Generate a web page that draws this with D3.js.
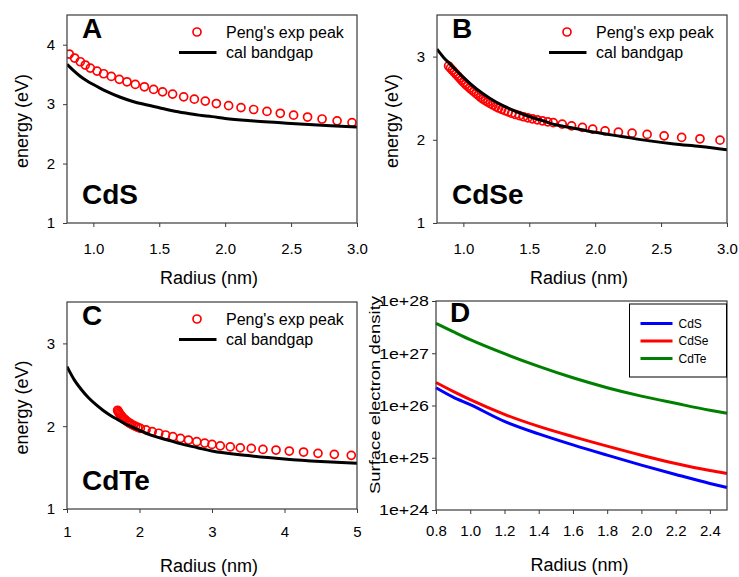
<!DOCTYPE html>
<html>
<head>
<meta charset="utf-8">
<script src="https://cdn.jsdelivr.net/npm/d3@7"></script>
<style>
  html, body { margin: 0; background: #fff; }
  svg { display: block; }
</style>
</head>
<body>
<svg id="fig" width="739" height="577"></svg>
<script>
// ---- Data: radius (nm) vs energy (eV) ----
const cdsExp = [
  [0.817,3.843],[0.858,3.776],[0.901,3.713],[0.939,3.658],[0.977,3.607],[1.028,3.556],
  [1.078,3.511],[1.136,3.467],[1.197,3.417],[1.255,3.376],[1.318,3.332],[1.387,3.292],
  [1.457,3.248],[1.525,3.207],[1.601,3.169],[1.685,3.123],[1.766,3.084],[1.849,3.051],
  [1.933,3.010],[2.026,2.975],[2.120,2.942],[2.216,2.910],[2.317,2.878],[2.418,2.846],
  [2.519,2.815],[2.625,2.783],[2.735,2.750],[2.849,2.719],[2.962,2.690]
];
const cdsCal = [
  [0.80,3.67],[0.85,3.565],[0.90,3.47],[0.95,3.395],[1.00,3.33],[1.05,3.27],[1.10,3.215],
  [1.20,3.12],[1.30,3.045],[1.40,2.99],[1.50,2.94],[1.60,2.89],[1.70,2.85],[1.80,2.815],
  [1.90,2.79],[2.00,2.76],[2.20,2.72],[2.40,2.69],[2.60,2.66],[2.80,2.635],[3.00,2.615]
];
const cdseExp = [
  [0.888,2.887],[0.902,2.862],[0.916,2.838],[0.930,2.814],[0.944,2.790],[0.958,2.766],
  [0.972,2.742],[0.987,2.716],[1.002,2.690],[1.017,2.667],[1.032,2.645],[1.048,2.622],
  [1.064,2.600],[1.080,2.579],[1.097,2.556],[1.114,2.534],[1.131,2.510],[1.149,2.489],
  [1.167,2.471],[1.186,2.453],[1.205,2.436],[1.225,2.418],[1.246,2.399],[1.268,2.382],
  [1.291,2.366],[1.315,2.350],[1.340,2.335],[1.367,2.319],[1.395,2.304],[1.425,2.290],
  [1.456,2.277],[1.489,2.264],[1.524,2.252],[1.561,2.240],[1.600,2.228],[1.640,2.216],
  [1.682,2.206],[1.750,2.188],[1.821,2.168],[1.903,2.149],[1.981,2.128],[2.075,2.108],
  [2.176,2.092],[2.280,2.080],[2.394,2.065],[2.523,2.048],[2.656,2.029],[2.795,2.012],
  [2.947,1.996]
];
const cdseCal = [
  [0.80,3.09],[0.85,2.99],[0.90,2.91],[0.95,2.83],[1.00,2.75],[1.10,2.61],[1.20,2.50],
  [1.30,2.41],[1.40,2.34],[1.50,2.28],[1.60,2.23],[1.70,2.18],[1.80,2.15],[1.90,2.12],
  [2.00,2.09],[2.20,2.04],[2.40,1.99],[2.60,1.95],[2.80,1.92],[3.00,1.88]
];
const cdteExp = [
  [1.698,2.192],[1.708,2.176],[1.719,2.160],[1.731,2.145],[1.744,2.130],[1.758,2.115],
  [1.773,2.101],[1.789,2.087],[1.806,2.074],[1.824,2.061],[1.844,2.048],[1.866,2.035],
  [1.890,2.022],[1.916,2.010],[1.945,1.998],[1.977,1.986],[2.012,1.974],[2.090,1.955],
  [2.175,1.935],[2.265,1.915],[2.360,1.894],[2.460,1.873],[2.565,1.853],[2.675,1.833],
  [2.790,1.813],[2.900,1.796],[3.000,1.780],[3.114,1.763],[3.252,1.751],[3.390,1.739],
  [3.542,1.732],[3.703,1.720],[3.883,1.712],[4.066,1.700],[4.263,1.688],[4.462,1.672],
  [4.687,1.660],[4.921,1.648]
];
const cdteCal = [
  [1.0,2.72],[1.1,2.56],[1.2,2.44],[1.3,2.34],[1.4,2.26],[1.5,2.19],[1.6,2.13],[1.7,2.08],
  [1.8,2.03],[1.9,1.99],[2.0,1.95],[2.2,1.88],[2.4,1.83],[2.6,1.78],[2.8,1.74],[3.0,1.70],
  [3.5,1.645],[4.0,1.605],[4.5,1.575],[5.0,1.553]
];

// ---- Data: radius (nm) vs surface electron density ----
const densityRadius = [0.8, 0.9, 1.0, 1.2, 1.4, 1.6, 1.8, 2.0, 2.2, 2.4, 2.5];
const densityCdS  = [2.19e26, 1.45e26, 1.04e26, 4.97e25, 2.86e25, 1.76e25, 1.12e25, 7.24e24, 4.79e24, 3.22e24, 2.69e24];
const densityCdSe = [2.75e26, 1.86e26, 1.29e26, 6.76e25, 3.98e25, 2.54e25, 1.67e25, 1.12e25, 7.76e24, 5.69e24, 5.01e24];
const densityCdTe = [3.72e27, 2.59e27, 1.82e27, 9.8e26, 5.6e26, 3.39e26, 2.19e26, 1.51e26, 1.10e26, 8.1e25, 7.1e25];

// ---- Tick values ----
const ticksRadiusAB = [1.0, 1.5, 2.0, 2.5, 3.0];
const ticksRadiusC  = [1, 2, 3, 4, 5];
const ticksRadiusD  = [0.8, 1.0, 1.2, 1.4, 1.6, 1.8, 2.0, 2.2, 2.4];
const ticksEnergyA  = [1, 2, 3, 4];
const ticksEnergyBC = [1, 2, 3];
const ticksDensity  = [1e24, 1e25, 1e26, 1e27, 1e28];
const legendEnergy  = ["Peng's exp peak", "cal bandgap"];
const materials     = ["CdS", "CdSe", "CdTe"];
const materialColors = ["#0000ff", "#ff0000", "#008000"];

const FONT = "'Liberation Sans', Arial, Helvetica, sans-serif";
const AXIS = "#3a3a3a";
const CIRCLE_R = 4, CIRCLE_W = 1.7, CAL_W = 3;
const svg = d3.select("#fig");

function styleAxis(sel, fontSize) {
  sel.select(".domain").remove();
  sel.selectAll(".tick line").attr("stroke", AXIS).attr("stroke-width", 1);
  sel.selectAll(".tick text").attr("fill", "#000")
     .style("font-family", FONT).style("font-size", fontSize + "px");
}

function frame(g, x0, x1, y0, y1) {
  g.append("rect").attr("x", x0).attr("y", y0)
   .attr("width", x1 - x0).attr("height", y1 - y0)
   .attr("fill", "none").attr("stroke", AXIS).attr("stroke-width", 1.2);
}

function energyPanel(o) {
  const g = svg.append("g");
  const x = d3.scaleLinear().domain(o.xDomain).range([o.left, o.right]);
  const y = d3.scaleLinear().domain([1, o.yMax]).range([o.bottom, o.top]);

  const clipId = "clip-" + o.letter;
  svg.append("clipPath").attr("id", clipId).append("rect")
     .attr("x", o.left).attr("y", o.top)
     .attr("width", o.right - o.left).attr("height", o.bottom - o.top);

  g.append("g").attr("transform", `translate(0,${o.bottom})`)
   .call(d3.axisBottom(x).tickValues(o.xTicks).tickFormat(d3.format(o.xFormat))
        .tickSizeInner(4).tickSizeOuter(0).tickPadding(o.xPad))
   .call(s => styleAxis(s, 15));
  g.append("g").attr("transform", `translate(${o.left},0)`)
   .call(d3.axisLeft(y).tickValues(o.yTicks).tickFormat(d3.format("d"))
        .tickSizeInner(4).tickSizeOuter(0).tickPadding(8))
   .call(s => styleAxis(s, 15));

  const plot = g.append("g").attr("clip-path", `url(#${clipId})`);
  plot.selectAll("circle").data(o.exp).join("circle")
      .attr("cx", d => x(d[0])).attr("cy", d => y(d[1])).attr("r", CIRCLE_R)
      .attr("fill", "none").attr("stroke", "#ff0000").attr("stroke-width", CIRCLE_W);
  plot.append("path").datum(o.cal)
      .attr("d", d3.line().x(d => x(d[0])).y(d => y(d[1])).curve(d3.curveMonotoneX))
      .attr("fill", "none").attr("stroke", "#000").attr("stroke-width", CAL_W);

  frame(g, o.left, o.right, o.top, o.bottom);

  // legend
  const lx = o.left + 130, ly = o.top + 17;
  g.append("circle").attr("cx", lx).attr("cy", ly).attr("r", CIRCLE_R)
   .attr("fill", "none").attr("stroke", "#ff0000").attr("stroke-width", CIRCLE_W);
  g.append("line").attr("x1", lx - 18).attr("x2", lx + 19.5)
   .attr("y1", ly + 20.5).attr("y2", ly + 20.5)
   .attr("stroke", "#000").attr("stroke-width", CAL_W);
  legendEnergy.forEach((t, i) => {
    g.append("text").attr("x", lx + 29).attr("y", ly + i * 20.5)
     .attr("dominant-baseline", "central")
     .style("font-family", FONT).style("font-size", "16px").text(t);
  });

  // panel letter and material name
  g.append("text").attr("x", o.left + 15).attr("y", o.top + 23)
   .style("font-family", FONT).style("font-size", "28px").style("font-weight", "bold")
   .text(o.letter);
  g.append("text").attr("x", o.left + 15).attr("y", o.matY)
   .style("font-family", FONT).style("font-size", "28px").style("font-weight", "bold")
   .text(o.material);

  // axis titles
  g.append("text").attr("x", (o.left + o.right) / 2 - 3).attr("y", o.bottom + o.xTitleOff)
   .attr("text-anchor", "middle").attr("dominant-baseline", "central")
   .style("font-family", FONT).style("font-size", "18px").text("Radius (nm)");
  g.append("text")
   .attr("transform", `translate(${o.left - 45},${(o.top + o.bottom) / 2 + 2}) rotate(-90)`)
   .attr("text-anchor", "middle").attr("dominant-baseline", "central")
   .style("font-family", FONT).style("font-size", "18px").text("energy (eV)");
}

energyPanel({ letter: "A", material: materials[0], exp: cdsExp, cal: cdsCal,
  left: 67, right: 357, top: 15, bottom: 223, xDomain: [0.8, 3.0], yMax: 4.5,
  xTicks: ticksRadiusAB, xFormat: ".1f", yTicks: ticksEnergyA, xPad: 16, matY: 204, xTitleOff: 55 });
energyPanel({ letter: "B", material: materials[1], exp: cdseExp, cal: cdseCal,
  left: 437, right: 727, top: 15, bottom: 223, xDomain: [0.8, 3.0], yMax: 3.5,
  xTicks: ticksRadiusAB, xFormat: ".1f", yTicks: ticksEnergyBC, xPad: 16, matY: 204, xTitleOff: 55 });
energyPanel({ letter: "C", material: materials[2], exp: cdteExp, cal: cdteCal,
  left: 67, right: 357, top: 302, bottom: 509, xDomain: [1, 5], yMax: 3.5,
  xTicks: ticksRadiusC, xFormat: "d", yTicks: ticksEnergyBC, xPad: 13, matY: 490, xTitleOff: 57 });

// ---- Panel D: surface electron density (log scale) ----
(function densityPanel() {
  const left = 436, right = 727, top = 301, bottom = 510;
  const g = svg.append("g");
  const x = d3.scaleLinear().domain([0.8, 2.5]).range([left, right]);
  const y = d3.scaleLog().domain([1e24, 1e28]).range([bottom, top]);

  g.append("g").attr("transform", `translate(0,${bottom})`)
   .call(d3.axisBottom(x).tickValues(ticksRadiusD).tickFormat(d3.format(".1f"))
        .tickSizeInner(4).tickSizeOuter(0).tickPadding(11.5))
   .call(s => styleAxis(s, 15));
  const yAxis = g.append("g").attr("transform", `translate(${left},0)`)
   .call(d3.axisLeft(y).tickValues(ticksDensity)
        .tickFormat(d => "1e+" + Math.round(Math.log10(d)))
        .tickSizeInner(4).tickSizeOuter(0).tickPadding(3))
   .call(s => styleAxis(s, 15));
  yAxis.selectAll(".tick text").attr("textLength", 50).attr("lengthAdjust", "spacingAndGlyphs");

  const series = [densityCdS, densityCdSe, densityCdTe];
  const line = d3.line().x(d => x(d[0])).y(d => y(d[1])).curve(d3.curveMonotoneX);
  series.forEach((vals, i) => {
    g.append("path").datum(densityRadius.map((r, k) => [r, vals[k]]))
     .attr("d", line).attr("fill", "none")
     .attr("stroke", materialColors[i]).attr("stroke-width", 3);
  });

  frame(g, left, right, top, bottom);

  // legend box
  const bx = 629.5, by = 304, bw = 97, bh = 73;
  g.append("rect").attr("x", bx).attr("y", by).attr("width", bw).attr("height", bh)
   .attr("fill", "#fff").attr("stroke", "#000").attr("stroke-width", 1);
  materials.forEach((m, i) => {
    const yy = by + 19.5 + i * 17.5;
    g.append("line").attr("x1", bx + 11).attr("x2", bx + 43).attr("y1", yy).attr("y2", yy)
     .attr("stroke", materialColors[i]).attr("stroke-width", 3);
    g.append("text").attr("x", bx + 49).attr("y", yy).attr("dominant-baseline", "central")
     .style("font-family", FONT).style("font-size", "12px").text(m);
  });

  g.append("text").attr("x", left + 14).attr("y", top + 21)
   .style("font-family", FONT).style("font-size", "28px").style("font-weight", "bold").text("D");

  g.append("text").attr("x", (left + right) / 2 - 2).attr("y", bottom + 55)
   .attr("text-anchor", "middle").attr("dominant-baseline", "central")
   .style("font-family", FONT).style("font-size", "18px").text("Radius (nm)");
  g.append("text")
   .attr("transform", `translate(375,395) rotate(-90)`)
   .attr("text-anchor", "middle").attr("dominant-baseline", "central")
   .attr("textLength", 198).attr("lengthAdjust", "spacingAndGlyphs")
   .style("font-family", FONT).style("font-size", "14px").text("Surface electron density");
})();
</script>
</body>
</html>
